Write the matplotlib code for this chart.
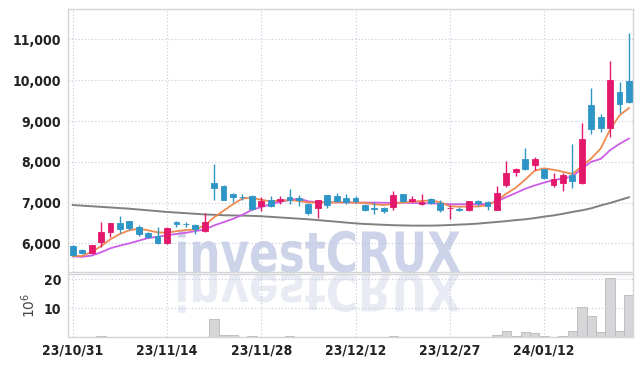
import numpy as np
import matplotlib
matplotlib.use("Agg")
import matplotlib.pyplot as plt
import matplotlib.transforms as mtransforms
from matplotlib.textpath import TextPath
from matplotlib.patches import PathPatch
from matplotlib.font_manager import FontProperties
from matplotlib.ticker import FuncFormatter

# trading days shown (index 0..59)
dates = ["23/10/31", "23/11/01", "23/11/02", "23/11/03", "23/11/06", "23/11/07", "23/11/08",
         "23/11/09", "23/11/10", "23/11/13", "23/11/14", "23/11/15", "23/11/16", "23/11/17",
         "23/11/20", "23/11/21", "23/11/22", "23/11/23", "23/11/24", "23/11/27", "23/11/28",
         "23/11/29", "23/11/30", "23/12/01", "23/12/04", "23/12/05", "23/12/06", "23/12/07",
         "23/12/08", "23/12/11", "23/12/12", "23/12/13", "23/12/14", "23/12/15", "23/12/18",
         "23/12/19", "23/12/20", "23/12/21", "23/12/22", "23/12/26", "23/12/27", "23/12/28",
         "24/01/02", "24/01/03", "24/01/04", "24/01/05", "24/01/08", "24/01/09", "24/01/10",
         "24/01/11", "24/01/12", "24/01/15", "24/01/16", "24/01/17", "24/01/18", "24/01/19",
         "24/01/22", "24/01/23", "24/01/24", "24/01/25"]
tick_idx = [0, 10, 20, 30, 40, 50]

opens = [5943, 5837, 5756, 6041, 6285, 6504, 6545, 6407, 6252, 6171,
         6016, 6528, 6480, 6447, 6309, 7472, 7398, 7211, 7146, 7170,
         6910, 7072, 7040, 7137, 7121, 6975, 6877, 7178, 7154, 7113,
         7121, 6950, 6861, 6869, 6894, 7218, 7040, 6975, 7097, 6991,
         6861, 6853, 6812, 7032, 7015, 6829, 7437, 7747, 8072, 7910,
         7824, 7441, 7490, 7678, 7482, 9392, 9090, 8837, 9710, 9980]
highs = [5950, 5860, 5967, 6520, 6488, 6659, 6545, 6440, 6270, 6390,
         6400, 6553, 6528, 6472, 6756, 7951, 7439, 7236, 7220, 7180,
         7137, 7170, 7170, 7324, 7178, 6991, 7072, 7178, 7235, 7219,
         7150, 6975, 7015, 6894, 7284, 7218, 7154, 7219, 7110, 7056,
         6934, 6893, 7050, 7056, 7032, 7406, 8031, 7845, 8340, 8130,
         7830, 7718, 7718, 8428, 8959, 9800, 9172, 10477, 9955, 11171]
lows = [5700, 5740, 5750, 5900, 6146, 6244, 6325, 6187, 6140, 5984,
        5990, 6407, 6390, 6220, 6285, 7073, 7057, 7016, 7057, 6820,
        6796, 6894, 6975, 6975, 6910, 6706, 6634, 6877, 7008, 6975,
        6990, 6788, 6731, 6747, 6812, 7007, 7007, 6950, 6970, 6771,
        6609, 6796, 6800, 6910, 6812, 6812, 7381, 7642, 7804, 7790,
        7590, 7392, 7286, 7351, 7457, 8673, 8739, 8616, 9204, 9449]
closes = [5707, 5756, 5951, 6268, 6488, 6350, 6366, 6228, 6154, 6000,
          6366, 6472, 6463, 6341, 6528, 7358, 7073, 7138, 7130, 6846,
          7031, 6918, 7097, 7072, 7056, 6747, 7072, 6934, 7040, 7023,
          7031, 6812, 6837, 6788, 7178, 7031, 7088, 7015, 6999, 6812,
          6877, 6828, 7032, 6991, 6910, 7243, 7730, 7828, 7828, 8072,
          7612, 7571, 7678, 7539, 8559, 8804, 8837, 10004, 9416, 9473]

ma_short = [5690, 5690, 5790, 5930, 6100, 6230, 6320, 6360, 6320, 6270,
            6260, 6300, 6325, 6340, 6440, 6640, 6800, 6960, 7100, 7120,
            7070, 7030, 7050, 7060, 7040, 7000, 7000, 7005, 7005, 7005,
            7000, 6990, 6960, 6940, 6970, 7000, 7020, 7040, 7050, 7010,
            6910, 6900, 6900, 6905, 6935, 7045, 7220, 7365, 7565, 7780,
            7840, 7805, 7755, 7700, 7895, 8080, 8325, 8790, 9140, 9320]
ma_mid = [5680, 5670, 5700, 5780, 5880, 5945, 6000, 6065, 6130, 6160,
          6200, 6230, 6260, 6300, 6340, 6440, 6520, 6600, 6700, 6820,
          6890, 6960, 7015, 7065, 7095, 7030, 7010, 7010, 7005, 7005,
          7000, 7000, 7000, 6995, 6995, 7000, 6990, 6985, 6980, 6975,
          6960, 6960, 6960, 6960, 6965, 7030, 7135, 7235, 7340, 7420,
          7490, 7550, 7590, 7640, 7835, 8000, 8070, 8285, 8440, 8570]
ma_long = [6940, 6925, 6910, 6895, 6880, 6865, 6850, 6830, 6810, 6790,
           6770, 6755, 6740, 6725, 6710, 6700, 6690, 6685, 6680, 6675,
           6665, 6650, 6635, 6620, 6605, 6590, 6570, 6550, 6530, 6510,
           6490, 6475, 6465, 6455, 6445, 6440, 6435, 6435, 6435, 6440,
           6450, 6460, 6470, 6485, 6505, 6525, 6545, 6570, 6590, 6620,
           6655, 6685, 6725, 6770, 6810, 6860, 6930, 6990, 7060, 7130]

# volume in millions of shares
volume = [0.1, 0.1, 0.1, 0.35, 0.1, 0.05, 0.05, 0.05, 0.05, 0.05,
          0.05, 0.05, 0.05, 0.1, 0.1, 6.1, 0.8, 0.6, 0.1, 0.35,
          0.1, 0.1, 0.1, 0.3, 0.1, 0.1, 0.1, 0.05, 0.05, 0.05,
          0.05, 0.05, 0.05, 0.1, 0.35, 0.1, 0.05, 0.05, 0.05, 0.05,
          0.05, 0.05, 0.05, 0.05, 0.1, 0.8, 1.95, 0.35, 1.6, 1.26,
          0.35, 0.1, 0.35, 1.95, 10.3, 7.2, 1.6, 20.3, 2.1, 14.7]

UP = "#e3186b"
DOWN = "#2e96c6"
GRID = "#c3c8dc"
W, H, DPI = 642, 366, 100

fig = plt.figure(figsize=(W / DPI, H / DPI), dpi=DPI)
ax = fig.add_axes([68.3 / W, 94.3 / H, 564.4 / W, 262.4 / H])
axv = fig.add_axes([68.3 / W, 29 / H, 564.4 / W, 63.5 / H], sharex=ax)

x = np.arange(len(dates))
o, h, l, c = map(np.array, (opens, highs, lows, closes))
col = np.where(c >= o, UP, DOWN)

ax.vlines(x, l, h, colors=col, lw=1.0, zorder=3)
body = np.maximum(np.abs(c - o), 12)
ax.bar(x, body, bottom=np.minimum(o, c), width=0.62, color=col, edgecolor=col, lw=0.6, zorder=4)

ax.plot(x, ma_long, color="#808080", lw=1.4, zorder=2)
ax.plot(x, ma_mid, color="#cc5ee6", lw=1.3, zorder=2)
ax.plot(x, ma_short, color="#ef8a50", lw=1.3, zorder=2)

axv.bar(x, volume, width=1.0, color="#d6d6d8", edgecolor="#b8b8bc", lw=0.6, zorder=2)

ax.set_xlim(-0.47, 59.4)
ax.set_ylim(5305, 11740)
axv.set_ylim(0, 22)

ax.set_yticks([6000, 7000, 8000, 9000, 10000, 11000])
ax.yaxis.set_major_formatter(FuncFormatter(lambda v, p: f"{int(v):,}"))
axv.set_yticks([10, 20])
axv.set_xticks(tick_idx)
axv.set_xticklabels([dates[i] for i in tick_idx])
ax.tick_params(axis="x", labelbottom=False)

tick_font = FontProperties(family="DejaVu Sans", stretch="condensed", weight="bold", size=10)
for a in (ax, axv):
    a.set_facecolor("none")
    a.grid(True, color=GRID, ls=(0, (1, 2)), lw=0.8)
    a.set_axisbelow(True)
    a.tick_params(length=0, pad=5, colors="#222222")
    for lab in a.get_xticklabels() + a.get_yticklabels():
        lab.set_fontproperties(tick_font)
    for s in a.spines.values():
        s.set_color("#d4d4d8")
        s.set_linewidth(1.0)

axv.set_ylabel(r"$10^6$", fontsize=10, color="#444444", labelpad=4)

# watermark with reflection
tp = TextPath((0, 0), "investCRUX", size=1, prop=FontProperties(family="DejaVu Sans", weight="bold"))
ext = tp.get_extents()
sx, sy = 282 / ext.width, 43 / ext.height
to_fig = mtransforms.Affine2D().scale(1 / DPI) + fig.dpi_scale_trans
up_t = mtransforms.Affine2D().translate(-ext.x0, 0).scale(sx, sy).translate(178, H - 272) + to_fig
dn_t = mtransforms.Affine2D().translate(-ext.x0, 0).scale(sx, -sy * 0.92).translate(178, H - 274) + to_fig
fig.add_artist(PathPatch(tp, transform=up_t, color="#cdd3e8", lw=0, zorder=-1))
fig.add_artist(PathPatch(tp, transform=dn_t, color="#e8ebf3", lw=0, zorder=-1))

fig.savefig("out.png", dpi=DPI)
